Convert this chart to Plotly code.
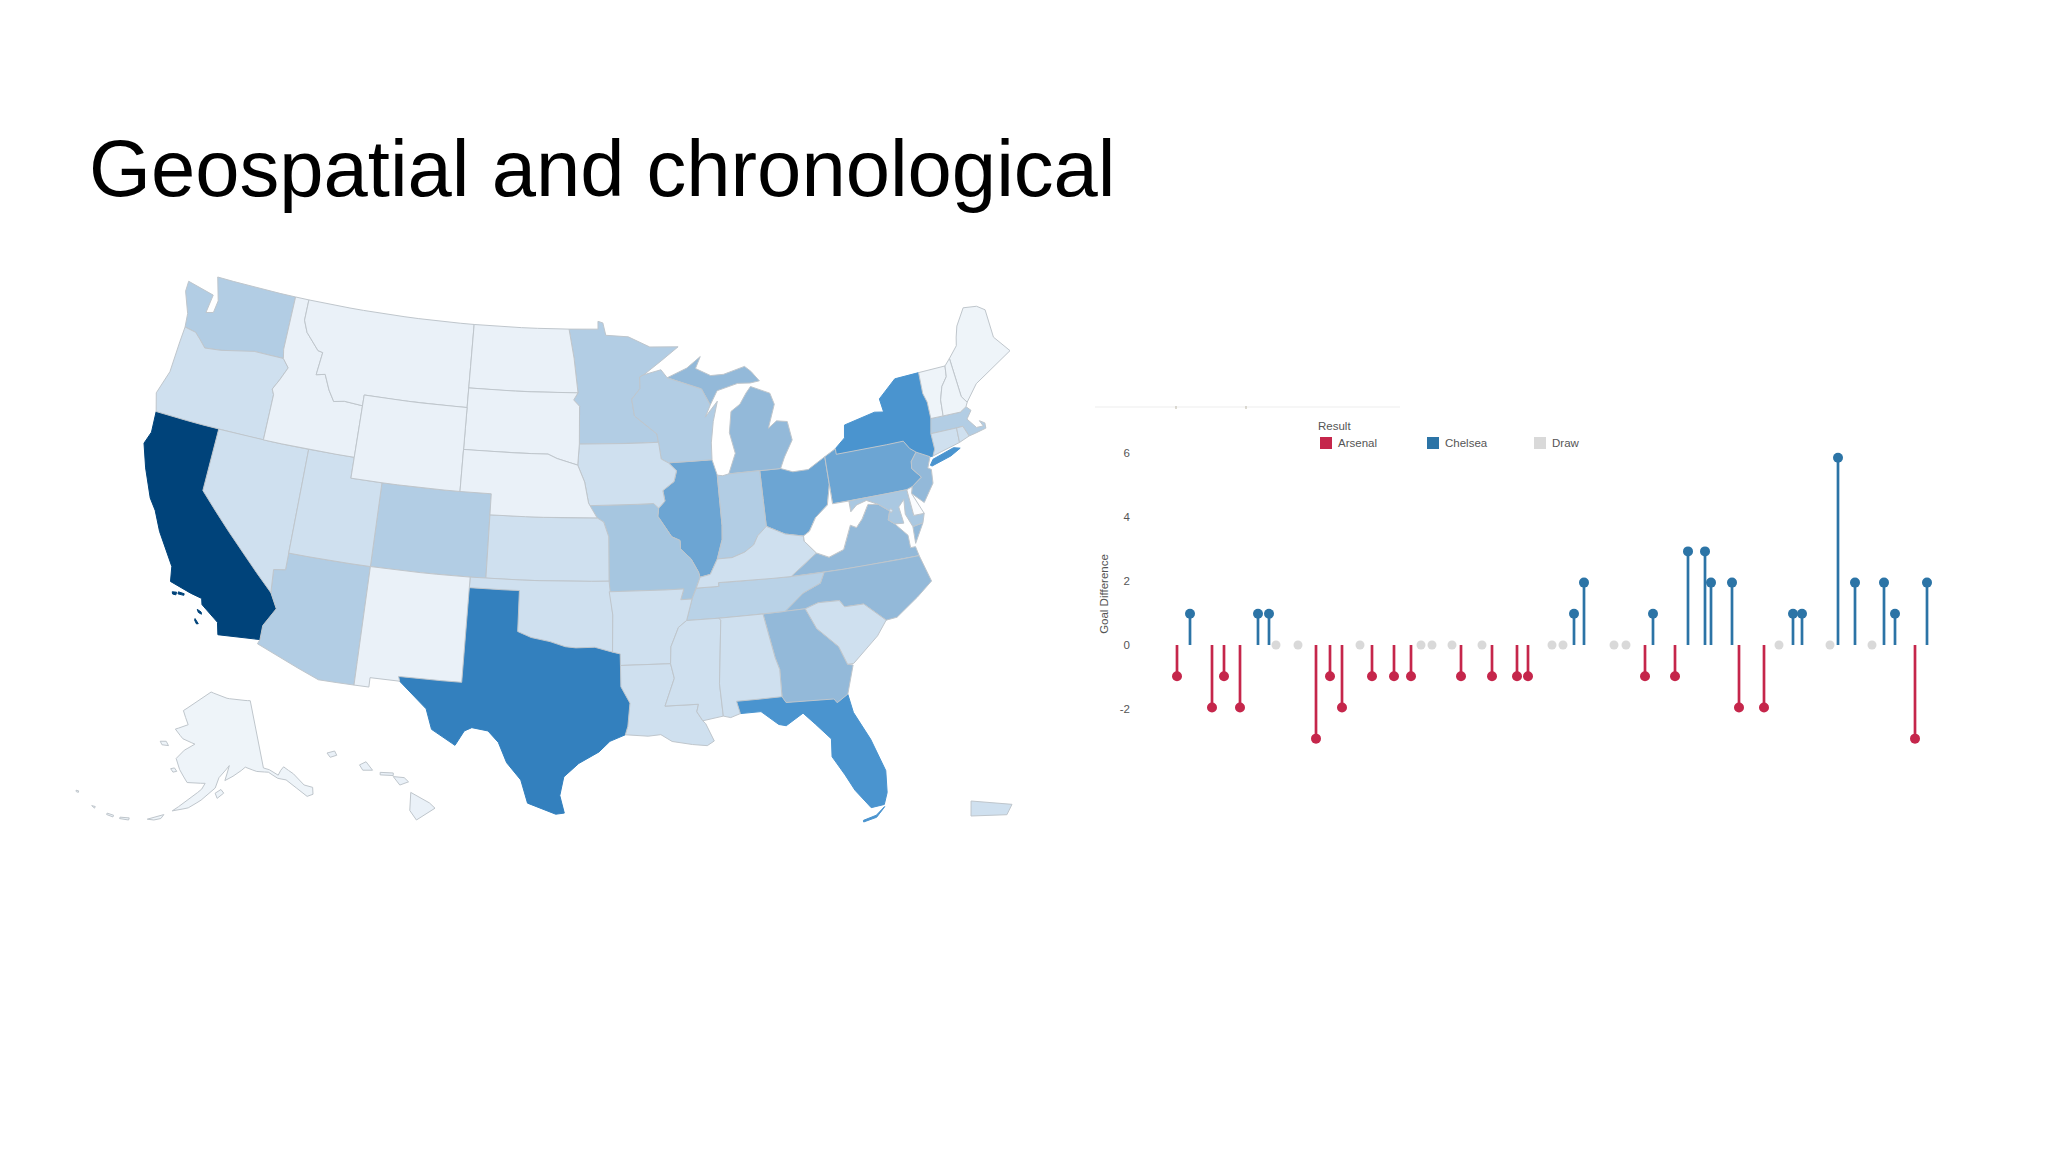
import math
import plotly.graph_objects as go
from plotly.colors import sample_colorscale

# ---------- lollipop data ----------
arsenal_days = [0, 35, 47, 63, 139, 153, 165, 195, 217, 234, 284, 315, 340, 351, 468, 498, 562, 587, 738]
arsenal_diff = [-1, -2, -1, -2, -3, -1, -2, -1, -1, -1, -1, -1, -1, -1, -1, -1, -2, -2, -3]
chelsea_days = [13, 81, 92, 397, 407, 476, 511, 528, 534, 555, 616, 625, 661, 678, 707, 718, 750]
chelsea_diff = [1, 1, 1, 1, 2, 1, 3, 3, 2, 2, 1, 1, 6, 2, 2, 1, 2]
draw_days = [99, 121, 183, 244, 255, 275, 305, 375, 386, 437, 449, 602, 653, 695]
y_tick_labels = ["-2", "0", "2", "4", "6"]

# ---------- map data ----------
state_codes = ["CA","TX","NY","FL","OH","IL","PA","MI","VA","NC","GA","MO","MA","WA","CO","AZ","MN","WI","IN","TN","NJ",
               "OR","NV","UT","KS","OK","IA","AR","LA","MS","AL","SC","KY","MD","CT","ID","MT","ND","SD","WY","NE","NM",
               "AK","ME","VT","NH","HI","RI","DE","WV","DC","PR"]
state_values = [100,55,47,47,38,38,38,28,28,28,28,23,20,20,20,20,20,20,20,18,28,
                12,12,12,12,12,12,12,12,12,12,12,12,22,12,5,5,5,5,5,5,5,
                4,4,4,4,5,12,1,0,10,12]

STATE_RINGS = {
"WA":[[(-124.7,48.4),(-123.2,48.15),(-122.75,48.1),(-122.9,47.2),(-122.4,47.3),(-122.3,47.9),(-122.5,48.4),(-122.8,49),(-117.03,49),(-117.04,46.42),(-116.92,45.99),(-118.98,46),(-119.3,45.93),(-121.2,45.65),(-122.3,45.55),(-122.8,45.9),(-123.2,46.15),(-124,46.25),(-124.1,46.9),(-124.7,47.9)]],
"OR":[[(-124,46.25),(-123.2,46.15),(-122.8,45.9),(-122.3,45.55),(-121.2,45.65),(-119.3,45.93),(-118.98,46),(-116.92,45.99),(-116.46,45.6),(-116.85,44.95),(-117.2,44.45),(-117.03,44.2),(-117.03,42),(-124.2,42),(-124.55,42.85),(-124.1,44),(-124.05,45.5)]],
"CA":[[(-124.2,42),(-120,42),(-120,39),(-114.63,35),(-114.14,34.3),(-114.72,33.4),(-114.72,32.72),(-117.12,32.53),(-117.3,33.1),(-118.4,33.75),(-118.5,34.03),(-119.2,34.15),(-120.5,34.45),(-120.65,35.15),(-121.9,36.6),(-122.5,37.5),(-123,38),(-123.8,39.3),(-124.35,40.4),(-124.1,41)],
      [(-119.9,34.07),(-119.55,34.05),(-119.55,33.97),(-119.9,33.97)],[(-120.25,34),(-120,34.03),(-120,33.9),(-120.2,33.9)],[(-118.6,33.48),(-118.35,33.4),(-118.3,33.3),(-118.5,33.35)],[(-118.6,33.03),(-118.35,32.83),(-118.45,32.8),(-118.6,32.95)]],
"NV":[[(-120,42),(-114.04,42),(-114.04,36.2),(-114.74,36.1),(-114.63,35),(-120,39)]],
"ID":[[(-117.03,49),(-116.05,49),(-116.05,48),(-115.7,47.45),(-114.7,46.7),(-114.35,46.65),(-114.5,45.55),(-113.9,45.65),(-113.45,44.95),(-113,44.45),(-112.3,44.55),(-111.05,44.48),(-111.05,42),(-117.03,42),(-117.03,44.2),(-117.2,44.45),(-116.85,44.95),(-116.46,45.6),(-116.92,45.99),(-117.04,46.42)]],
"MT":[[(-116.05,49),(-104.05,49),(-104.05,45),(-111.05,45),(-111.05,44.48),(-112.3,44.55),(-113,44.45),(-113.45,44.95),(-113.9,45.65),(-114.5,45.55),(-114.35,46.65),(-114.7,46.7),(-115.7,47.45),(-116.05,48)]],
"WY":[[(-111.05,45),(-104.05,45),(-104.05,41),(-111.05,41)]],
"UT":[[(-114.04,42),(-111.05,42),(-111.05,41),(-109.05,41),(-109.05,37),(-114.04,37)]],
"CO":[[(-109.05,41),(-102.05,41),(-102.05,37),(-109.05,37)]],
"AZ":[[(-114.04,37),(-109.05,37),(-109.05,31.33),(-111.07,31.33),(-114.81,32.5),(-114.72,32.72),(-114.72,33.4),(-114.14,34.3),(-114.63,35),(-114.74,36.1),(-114.04,36.2)]],
"NM":[[(-109.05,37),(-103,37),(-103.04,32),(-106.62,32),(-106.53,31.78),(-108.21,31.78),(-108.21,31.33),(-109.05,31.33)]],
"ND":[[(-104.05,49),(-97.23,49),(-96.85,47.6),(-96.56,45.94),(-104.05,45.94)]],
"SD":[[(-104.05,45.94),(-96.56,45.94),(-96.85,45.6),(-96.45,45.3),(-96.45,43.5),(-96.55,42.5),(-97.9,42.8),(-98.5,43),(-104.05,43)]],
"NE":[[(-104.05,43),(-98.5,43),(-97.9,42.8),(-96.55,42.5),(-96.1,41.7),(-95.85,40.7),(-95.31,40),(-102.05,40),(-102.05,41),(-104.05,41)]],
"KS":[[(-102.05,40),(-95.31,40),(-94.9,39.8),(-94.6,39.1),(-94.62,37),(-102.05,37)]],
"OK":[[(-103,37),(-94.62,37),(-94.43,35.4),(-94.48,33.64),(-95.5,33.88),(-96.6,33.85),(-97.2,33.9),(-98.1,34.13),(-99.2,34.3),(-100,34.56),(-100,36.5),(-103,36.5)]],
"TX":[[(-106.62,32),(-103.04,32),(-103,36.5),(-100,36.5),(-100,34.56),(-99.2,34.3),(-98.1,34.13),(-97.2,33.9),(-96.6,33.85),(-95.5,33.88),(-94.48,33.64),(-94.04,33.55),(-94.04,33),(-94.04,31.99),(-93.55,31.2),(-93.7,30.1),(-93.85,29.7),(-94.7,29.4),(-95.3,28.9),(-96.4,28.35),(-97.2,27.7),(-97.4,26.8),(-97.15,25.96),(-97.6,25.9),(-99.1,26.4),(-99.5,27.5),(-100.3,28.3),(-100.8,29.25),(-101.4,29.77),(-102.3,29.88),(-102.7,29.7),(-103.15,28.98),(-104.5,29.65),(-104.9,30.6),(-106.53,31.78)]],
"MN":[[(-97.23,49),(-95.15,49),(-95.15,49.38),(-94.8,49.3),(-94.6,48.7),(-93,48.6),(-91.5,48.07),(-89.5,48),(-92,46.75),(-92.3,46.65),(-92.3,46.1),(-92.9,45.6),(-92.75,44.8),(-91.3,43.9),(-91.22,43.5),(-96.45,43.5),(-96.45,45.3),(-96.85,45.6),(-96.56,45.94),(-96.85,47.6)]],
"IA":[[(-96.45,43.5),(-91.22,43.5),(-91.1,42.7),(-90.65,42.5),(-90.15,42.1),(-90.35,41.6),(-91.1,41.2),(-91,40.7),(-91.42,40.38),(-91.73,40.61),(-95.77,40.58),(-95.85,40.7),(-96.1,41.7),(-96.55,42.5)]],
"MO":[[(-95.77,40.58),(-91.73,40.61),(-91.42,40.38),(-91.5,40),(-90.7,39),(-90.2,38.8),(-90.2,38.4),(-89.6,37.9),(-89.2,37.25),(-89.13,37),(-89.4,36.5),(-89.7,36),(-90.37,36),(-90.15,36.5),(-94.62,36.5),(-94.62,37),(-94.6,39.1),(-94.9,39.8),(-95.31,40)]],
"AR":[[(-94.62,36.5),(-90.15,36.5),(-90.37,36),(-89.7,36),(-90.1,35),(-90.6,34.7),(-91.1,33.8),(-91.17,33),(-94.04,33),(-94.04,33.55),(-94.48,33.64),(-94.43,35.4)]],
"LA":[[(-94.04,33),(-91.17,33),(-91,32.3),(-91.6,31),(-89.73,31),(-89.85,30.65),(-89.55,30.2),(-89.4,30.05),(-89,29.2),(-89.4,29),(-90.2,29.1),(-91.3,29.3),(-91.9,29.65),(-92.6,29.6),(-93.85,29.7),(-93.7,30.1),(-93.55,31.2),(-94.04,31.99)]],
"MS":[[(-90.1,35),(-88.2,35),(-88.1,34.9),(-88.47,31.9),(-88.4,30.35),(-89.55,30.2),(-89.85,30.65),(-89.73,31),(-91.6,31),(-91,32.3),(-91.17,33),(-91.1,33.8),(-90.6,34.7)]],
"AL":[[(-88.2,35),(-85.6,35),(-85.18,32.87),(-85,32.3),(-85.05,31),(-87.6,31),(-87.45,30.4),(-88,30.25),(-88.4,30.35),(-88.47,31.9),(-88.1,34.9)]],
"TN":[[(-89.7,36),(-89.4,36.5),(-88.05,36.5),(-88.05,36.68),(-83.68,36.6),(-81.68,36.59),(-82,36.1),(-83.1,35.75),(-84.3,35),(-85.6,35),(-88.2,35),(-90.1,35)]],
"KY":[[(-89.4,36.5),(-89.13,37),(-88.5,37.1),(-88,37.8),(-87.1,37.8),(-86.3,38),(-85.7,38.3),(-85.4,38.7),(-84.8,39.1),(-84.3,38.9),(-83.7,38.63),(-82.6,38.42),(-82.6,38.17),(-81.97,37.54),(-83.68,36.6),(-88.05,36.68),(-88.05,36.5)]],
"IL":[[(-90.65,42.5),(-87.8,42.5),(-87.55,41.75),(-87.53,39.35),(-87.6,38.7),(-88,37.8),(-88.5,37.1),(-89.13,37),(-89.2,37.25),(-89.6,37.9),(-90.2,38.4),(-90.2,38.8),(-90.7,39),(-91.5,40),(-91.42,40.38),(-91,40.7),(-91.1,41.2),(-90.35,41.6),(-90.15,42.1)]],
"WI":[[(-92,46.75),(-90.8,46.95),(-90.4,46.55),(-88.1,45.9),(-87.6,45.1),(-88,44.55),(-87.1,45.25),(-87.5,44.3),(-87.75,43.3),(-87.8,42.5),(-90.65,42.5),(-91.1,42.7),(-91.22,43.5),(-91.3,43.9),(-92.75,44.8),(-92.9,45.6),(-92.3,46.1),(-92.3,46.65)]],
"IN":[[(-87.55,41.75),(-87.2,41.7),(-86.8,41.76),(-84.8,41.76),(-84.8,39.1),(-85.4,38.7),(-85.7,38.3),(-86.3,38),(-87.1,37.8),(-88,37.8),(-87.6,38.7),(-87.53,39.35)]],
"OH":[[(-84.8,41.76),(-83.45,41.73),(-82.7,41.5),(-81.7,41.5),(-80.52,41.98),(-80.52,40.64),(-80.85,39.7),(-81.7,39.2),(-82.2,38.6),(-82.6,38.42),(-83.7,38.63),(-84.3,38.9),(-84.8,39.1)]],
"MI":[[(-86.8,41.76),(-84.8,41.76),(-83.45,41.73),(-83.1,42.25),(-82.45,43),(-82.6,43.9),(-83.3,44),(-83.9,43.7),(-83.3,44.8),(-83.5,45.35),(-84.75,45.78),(-85.1,45.5),(-85.6,45),(-86.25,44.7),(-86.5,43.7),(-86.25,42.7)],
      [(-90.4,46.55),(-88.1,45.9),(-87.6,45.1),(-87.05,45.75),(-85.6,46),(-84.75,45.95),(-84.1,46),(-84.6,46.5),(-85,46.77),(-86.5,46.5),(-87.4,46.5),(-88.4,46.9),(-88,47.45),(-89,46.95)]],
"PA":[[(-80.52,41.98),(-79.76,42.27),(-79.76,42),(-75.35,42),(-75.05,41.6),(-74.7,41.36),(-75.13,40.98),(-75.2,40.65),(-74.72,40.15),(-75.42,39.8),(-75.79,39.72),(-80.52,39.72),(-80.52,40.64)]],
"NY":[[(-79.76,42.27),(-79.05,42.7),(-78.9,43.3),(-76.8,43.63),(-76.2,43.55),(-76.3,44.2),(-75,44.98),(-73.34,45.01),(-73.4,44),(-73.25,43.55),(-73.27,42.75),(-73.5,42.05),(-73.5,41.3),(-73.7,41),(-73.9,41),(-74.7,41.36),(-75.05,41.6),(-75.35,42),(-79.76,42)],
      [(-74,40.6),(-73.75,40.85),(-72.3,41.15),(-71.9,41.05),(-72.6,40.8),(-73.9,40.55)]],
"NJ":[[(-74.7,41.36),(-73.9,41),(-74.2,40.5),(-74,40.4),(-74.1,39.75),(-74.9,38.95),(-75.55,39.5),(-75.42,39.8),(-74.72,40.15),(-75.2,40.65),(-75.13,40.98)]],
"DE":[[(-75.79,39.72),(-75.42,39.8),(-75.55,39.5),(-75.05,38.45),(-75.7,38.46)]],
"MD":[[(-79.48,39.72),(-75.79,39.72),(-75.7,38.46),(-75.05,38.45),(-75.25,38.03),(-75.9,37.95),(-76.2,38.6),(-76.1,39.3),(-76.5,39),(-76.4,38.2),(-76.95,38.25),(-77.3,38.5),(-77.1,38.9),(-77.7,39.3),(-78.4,39.6),(-79.05,39.47),(-79.48,39.2)]],
"DC":[[(-77.12,38.93),(-77,39),(-76.91,38.89),(-77.04,38.8)]],
"VA":[[(-83.68,36.6),(-81.68,36.59),(-75.9,36.55),(-76,37),(-76.3,37),(-76.3,37.6),(-76.95,38.25),(-77.3,38.5),(-77.1,38.9),(-77.7,39.3),(-78.35,39.4),(-78.87,38.77),(-79.3,38.42),(-79.65,38.58),(-80.3,37.5),(-81.25,37.25),(-81.97,37.54)],
      [(-75.25,38.03),(-75.9,37.95),(-75.95,37.15)]],
"WV":[[(-80.52,40.64),(-80.52,39.72),(-79.48,39.72),(-79.48,39.2),(-79.05,39.47),(-78.4,39.6),(-77.7,39.3),(-78.35,39.4),(-78.87,38.77),(-79.3,38.42),(-79.65,38.58),(-80.3,37.5),(-81.25,37.25),(-81.97,37.54),(-82.6,38.17),(-82.6,38.42),(-82.2,38.6),(-81.7,39.2),(-80.85,39.7)]],
"NC":[[(-84.3,35),(-83.1,35.75),(-82,36.1),(-81.68,36.59),(-75.9,36.55),(-75.5,35.25),(-76.5,34.65),(-77.9,33.9),(-78.55,33.86),(-79.67,34.8),(-80.8,34.82),(-81.05,35.15),(-82.3,35.2),(-83.1,35)]],
"SC":[[(-83.1,35),(-82.3,35.2),(-81.05,35.15),(-80.8,34.82),(-79.67,34.8),(-78.55,33.86),(-79.2,33.2),(-80.8,32.1),(-81.15,32.1),(-81.5,33),(-82.6,34)]],
"GA":[[(-85.6,35),(-84.3,35),(-83.1,35),(-82.6,34),(-81.5,33),(-81.15,32.1),(-80.85,32.03),(-81.4,30.7),(-82.05,30.37),(-82.2,30.57),(-84.86,30.7),(-85.05,31),(-85,32.3),(-85.18,32.87)]],
"FL":[[(-87.6,31),(-85.05,31),(-84.86,30.7),(-82.2,30.57),(-82.05,30.37),(-81.4,30.7),(-81.25,29.8),(-80.55,28.4),(-80.03,26.8),(-80.15,25.75),(-80.4,25.2),(-81.1,25.15),(-81.8,26.1),(-82.2,26.9),(-82.75,27.85),(-82.65,28.7),(-83.4,29.5),(-84,30.1),(-85,29.6),(-85.4,29.7),(-86.3,30.4),(-87.45,30.4)],
      [(-81.6,24.6),(-80.9,24.75),(-80.4,25.1),(-80.5,25),(-80.9,24.65),(-81.6,24.52)]],
"CT":[[(-73.5,42.05),(-71.8,42.02),(-71.85,41.32),(-73.7,41),(-73.5,41.3)]],
"RI":[[(-71.8,42.02),(-71.38,42.02),(-71.15,41.5),(-71.85,41.32)]],
"MA":[[(-73.5,42.05),(-73.27,42.75),(-72.45,42.73),(-71.3,42.7),(-70.85,42.88),(-70.6,42.65),(-71,42.3),(-70.55,41.8),(-70.1,41.78),(-70.25,42.07),(-69.95,41.9),(-69.98,41.65),(-70.7,41.55),(-71.15,41.5),(-71.38,42.02),(-71.8,42.02)]],
"VT":[[(-73.34,45.01),(-71.5,45.01),(-71.6,44.5),(-72.05,44.1),(-72.35,43.5),(-72.45,42.73),(-73.27,42.75),(-73.25,43.55),(-73.4,44)]],
"NH":[[(-71.5,45.01),(-71.08,45.3),(-70.98,43.4),(-70.7,43.07),(-70.85,42.88),(-71.3,42.7),(-72.45,42.73),(-72.35,43.5),(-72.05,44.1),(-71.6,44.5)]],
"ME":[[(-71.08,45.3),(-70.4,45.8),(-70.25,46.2),(-70,46.7),(-69.23,47.46),(-68.3,47.35),(-67.8,47.07),(-67.8,45.7),(-67,44.85),(-68.5,44.3),(-69.8,43.8),(-70.7,43.07),(-70.98,43.4)]],
"AK":[[(-141,69.65),(-141,60.3),(-139.5,59.9),(-137.5,58.9),(-136.5,59.45),(-135.5,59.8),(-133.5,58.5),(-131.8,56.6),(-130,55.9),(-130.5,55),(-132,55),(-133.8,56.5),(-135.8,58),(-137.8,58.5),(-139.9,59.6),(-143,60),(-146,60.8),(-148.5,60),(-151.9,59.2),(-150.5,61.2),(-153.5,59.6),(-154.5,58.2),(-158,56.5),(-161,55.3),(-164.7,54.6),(-162,56),(-158,58),(-157.2,58.8),(-162,58.7),(-164.5,60.3),(-166,61.7),(-164,63),(-161,64),(-165,64.5),(-168,65.6),(-164,66.5),(-166.5,68.3),(-163,69.5),(-156.5,71.3),(-150,70.4)],
      [(-170,52.8),(-168,53.5),(-166.5,53.9),(-167,53.3),(-168.5,52.9)],[(-176,52),(-174,52.3),(-174,52),(-176,51.8)],[(-179,51.9),(-177.5,51.95),(-177.5,51.7),(-179,51.7)],[(-182.8,52),(-182,52.1),(-182,51.85)],[(-187.5,52.9),(-186.9,53),(-186.8,52.8),(-187.3,52.75)],[(-154.5,57.5),(-153,58),(-152.3,57.5),(-154,56.8)],[(-171.8,63.5),(-170,63.7),(-169,63.2),(-171,63.1)],[(-167,60.2),(-166,60.4),(-165.2,60),(-166.2,59.8)]],
"HI":[[(-155.9,20.25),(-155.05,19.75),(-154.8,19.5),(-155.65,18.95),(-155.95,19.4)],[(-156.7,21),(-156.2,20.95),(-156,20.75),(-156.4,20.6)],[(-158.25,21.55),(-157.95,21.7),(-157.65,21.3),(-158.1,21.3)],[(-159.75,22.1),(-159.4,22.2),(-159.3,22),(-159.6,21.9)],[(-157.3,21.2),(-156.7,21.17),(-156.7,21.05),(-157.3,21.08)]],
"PR":[[(-67.2,18.5),(-65.6,18.38),(-65.8,18),(-67.2,17.95)]],
}

# Albers parameters (parallel 1, parallel 2, central lon, central lat) and the page box each group is fitted to
MAIN_GROUP = dict(albers=(29.5, 45.5, -96, 37.5), box=(144, 277, 1010, 822))
INSETS = {"AK": dict(albers=(55, 65, -154, 50), box=(76, 692, 313, 820)),
          "HI": dict(albers=(8, 18, -157, 13), box=(327, 751, 435, 820)),
          "PR": dict(albers=(8, 18, -66, 18), box=(971, 801, 1012, 816))}


def albers(lon, lat, p1, p2, lon0, lat0):
    p1, p2, la0 = map(math.radians, (p1, p2, lat0))
    n = (math.sin(p1) + math.sin(p2)) / 2
    c = math.cos(p1) ** 2 + 2 * n * math.sin(p1)
    rho = lambda phi: math.sqrt(c - 2 * n * math.sin(phi)) / n
    th = n * math.radians(lon - lon0)
    r = rho(math.radians(lat))
    return r * math.sin(th), rho(la0) - r * math.cos(th)


def densify(ring):
    out = []
    for a, b in zip(ring, ring[1:] + ring[:1]):
        steps = max(1, int(max(abs(a[0] - b[0]), abs(a[1] - b[1]))))
        out += [(a[0] + (b[0] - a[0]) * i / steps, a[1] + (b[1] - a[1]) * i / steps) for i in range(steps)]
    return out + out[:1]


def project_group(codes, albers_args, box):
    """Project rings with Albers, then scale the group into its box on the page axis."""
    rings = {c: [[albers(lon, lat, *albers_args) for lon, lat in densify(r)] for r in STATE_RINGS[c]] for c in codes}
    pts = [p for c in codes for r in rings[c] for p in r]
    xs, ys = [p[0] for p in pts], [p[1] for p in pts]
    x0, y0, x1, y1 = box
    sx = (x1 - x0) / (max(xs) - min(xs))
    sy = (y1 - y0) / (max(ys) - min(ys))
    out = {}
    for c in codes:
        gx, gy = [], []
        for r in rings[c]:
            gx += [x0 + (p[0] - min(xs)) * sx for p in r] + [None]
            gy += [y0 + (max(ys) - p[1]) * sy for p in r] + [None]
        out[c] = (gx, gy)
    return out


outlines = project_group([c for c in state_codes if c not in INSETS], MAIN_GROUP["albers"], MAIN_GROUP["box"])
for code, inset in INSETS.items():
    outlines.update(project_group([code], inset["albers"], inset["box"]))

blues = [[0, "rgb(255,255,255)"], [0.05, "rgb(234,241,248)"], [0.12, "rgb(207,224,239)"], [0.20, "rgb(178,205,228)"],
         [0.28, "rgb(147,185,217)"], [0.38, "rgb(108,165,211)"], [0.47, "rgb(74,148,207)"], [0.55, "rgb(51,128,190)"],
         [1, "rgb(0,67,122)"]]
BORDER = "#BFC6CC"
W, H = 2048, 1152
RED, BLUE, GREY = "#C5264B", "#2C74A6", "#D9D9D9"
TEXT = "#555555"

fig = go.Figure()
for code, value in zip(state_codes, state_values):
    gx, gy = outlines[code]
    fill = sample_colorscale(blues, [value / 100])[0]
    fig.add_trace(go.Scatter(x=gx, y=gy, mode="lines", fill="toself", name=code, showlegend=False,
                             fillcolor=fill, line=dict(color=fill if value >= 45 else BORDER, width=1),
                             xaxis="x2", yaxis="y2", text=f"{code}: {value}", hoverinfo="text"))

fig.add_trace(go.Scatter(x=arsenal_days, y=arsenal_diff, mode="markers", name="Arsenal", showlegend=False,
                         marker=dict(color=RED, size=10),
                         error_y=dict(type="data", symmetric=False, array=[-v for v in arsenal_diff],
                                      arrayminus=[0] * len(arsenal_diff), color=RED, thickness=2.7, width=0)))
fig.add_trace(go.Scatter(x=chelsea_days, y=chelsea_diff, mode="markers", name="Chelsea", showlegend=False,
                         marker=dict(color=BLUE, size=10),
                         error_y=dict(type="data", symmetric=False, array=[0] * len(chelsea_diff),
                                      arrayminus=chelsea_diff, color=BLUE, thickness=2.7, width=0)))
fig.add_trace(go.Scatter(x=draw_days, y=[0] * len(draw_days), mode="markers", name="Draw", showlegend=False,
                         marker=dict(color=GREY, size=9)))


def px_x(v):
    return v / W


def px_y(v):
    return 1 - v / H


def paper_line(x0, y0, x1, y1, colour):
    return dict(type="line", xref="paper", yref="paper", x0=px_x(x0), x1=px_x(x1), y0=px_y(y0), y1=px_y(y1),
                line=dict(color=colour, width=1))


def swatch(x, colour):
    return dict(type="rect", xref="paper", yref="paper", x0=px_x(x - 6), x1=px_x(x + 6), y0=px_y(449), y1=px_y(437),
                fillcolor=colour, line=dict(width=0))


def label(text, x, y, size=11.5, colour=TEXT):
    return dict(text=text, xref="paper", yref="paper", x=px_x(x), y=px_y(y), xanchor="left", yanchor="middle",
                showarrow=False, font=dict(family="Liberation Sans", size=size, color=colour))


fig.update_layout(
    width=W, height=H, margin=dict(l=0, r=0, t=0, b=0), paper_bgcolor="white", plot_bgcolor="rgba(0,0,0,0)",
    font=dict(family="Liberation Sans", color=TEXT, size=11.5), showlegend=False,
    xaxis=dict(domain=[px_x(1135), px_x(2000)], range=[-42, 823], visible=False),
    yaxis=dict(domain=[px_y(748), px_y(440)], range=[-3.30, 6.57], showgrid=False, zeroline=False, showline=False,
               ticks="", tickmode="array", tickvals=[-2.05, 0, 2.05, 4.11, 6.16], ticktext=y_tick_labels,
               tickfont=dict(size=11.5, color=TEXT), ticklabelstandoff=4,
               title=dict(text="Goal Difference", font=dict(size=11.5, color=TEXT), standoff=8)),
    xaxis2=dict(domain=[0, 1], range=[0, W], visible=False, anchor="y2"),
    yaxis2=dict(domain=[0, 1], range=[H, 0], visible=False, anchor="x2"),
    annotations=[label("Geospatial and chronological", 87, 168, size=79.6, colour="#000000"),
                 label("Result", 1316, 426), label("Arsenal", 1336, 443), label("Chelsea", 1443, 443),
                 label("Draw", 1550, 443)],
    shapes=[paper_line(1095, 407, 1400, 407, "#EDEDED"), paper_line(1176, 406, 1176, 409, "#BDB8A8"),
            paper_line(1246, 406, 1246, 409, "#BDB8A8"), swatch(1326, RED), swatch(1433, BLUE), swatch(1540, GREY)],
)

fig.write_html("out.html", config={"displayModeBar": False}, post_script="document.body.style.margin='0';")
